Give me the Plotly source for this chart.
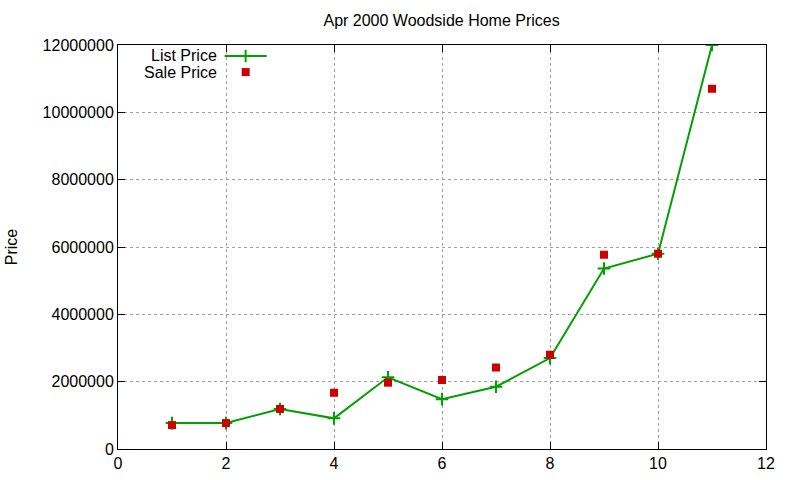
import plotly.graph_objects as go

# values
house = [1, 2, 3, 4, 5, 6, 7, 8, 9, 10, 11]
list_price = [770000, 770000, 1190000, 910000, 2130000, 1480000, 1850000, 2700000, 5360000, 5800000, 12000000]
sale_price = [710000, 770000, 1190000, 1670000, 1970000, 2050000, 2420000, 2800000, 5770000, 5800000, 10700000]

x_ticks = [0, 2, 4, 6, 8, 10, 12]
y_ticks = [0, 2000000, 4000000, 6000000, 8000000, 10000000, 12000000]

green = "#00a000"
red = "#cc0000"
font = "Liberation Sans, Arial, sans-serif"

fig = go.Figure()

fig.add_trace(go.Scatter(
    x=house, y=list_price, mode="lines+markers", name="List Price",
    line=dict(color=green, width=2),
    marker=dict(symbol="cross-thin", size=9, line=dict(color=green, width=2)),
    showlegend=False,
))
fig.add_trace(go.Scatter(
    x=house, y=sale_price, mode="markers", name="Sale Price",
    marker=dict(symbol="square", size=8, color=red),
    showlegend=False,
))

# gnuplot-style key: text on the left, sample on the right
# drawn on a hidden overlay axis that spans the plot area 0..1
fig.add_trace(go.Scatter(
    x=[0.1646, 0.197, 0.2295], y=[0.9728] * 3, mode="lines",
    line=dict(color=green, width=2), xaxis="x2", yaxis="y2",
    showlegend=False, hoverinfo="skip",
))
fig.add_trace(go.Scatter(
    x=[0.197], y=[0.9728], mode="markers",
    marker=dict(symbol="cross-thin", size=9, line=dict(color=green, width=2)),
    xaxis="x2", yaxis="y2", showlegend=False, hoverinfo="skip",
))
fig.add_trace(go.Scatter(
    x=[0.197], y=[0.933], mode="markers",
    marker=dict(symbol="square", size=8, color=red),
    xaxis="x2", yaxis="y2", showlegend=False, hoverinfo="skip",
))
for label, yy in [("List Price", 0.9728), ("Sale Price", 0.933)]:
    fig.add_annotation(
        x=0.1549, y=yy, xref="paper", yref="paper", text=label,
        showarrow=False, xanchor="right", yanchor="middle",
        height=15, borderpad=0, valign="middle",
        font=dict(family=font, size=16, color="#000000"),
    )

axis_common = dict(
    showline=True, linecolor="#000000", linewidth=1, mirror="allticks",
    ticks="inside", ticklen=7, tickcolor="#000000",
    showgrid=True, gridcolor="#a0a0a0", griddash="dot", gridwidth=1,
    zeroline=False, automargin=False,
    tickfont=dict(family=font, size=16, color="#000000"),
)

fig.update_layout(
    width=800, height=480,
    margin=dict(l=118, r=34, t=45, b=31, autoexpand=False),
    paper_bgcolor="#ffffff", plot_bgcolor="#ffffff",
    title=dict(
        text="Apr 2000 Woodside Home Prices", x=0.552, xanchor="center",
        y=1 - 20 / 480, yanchor="middle", yref="container",
        font=dict(family=font, size=16, color="#000000"),
    ),
    xaxis=dict(range=[0, 12], tickvals=x_ticks, **axis_common),
    yaxis=dict(
        range=[0, 12000000], tickvals=y_ticks, tickformat="d",
        title=dict(text="Price", standoff=21, font=dict(family=font, size=16, color="#000000")),
        **axis_common,
    ),
    xaxis2=dict(overlaying="x", range=[0, 1], visible=False, fixedrange=True),
    yaxis2=dict(overlaying="y", range=[0, 1], visible=False, fixedrange=True),
)

# drop the page's default body margin so the chart sits at the window's corner
fig.write_html(
    "out.html",
    config={"displayModeBar": False},
    post_script="document.body.style.margin='0';",
)
